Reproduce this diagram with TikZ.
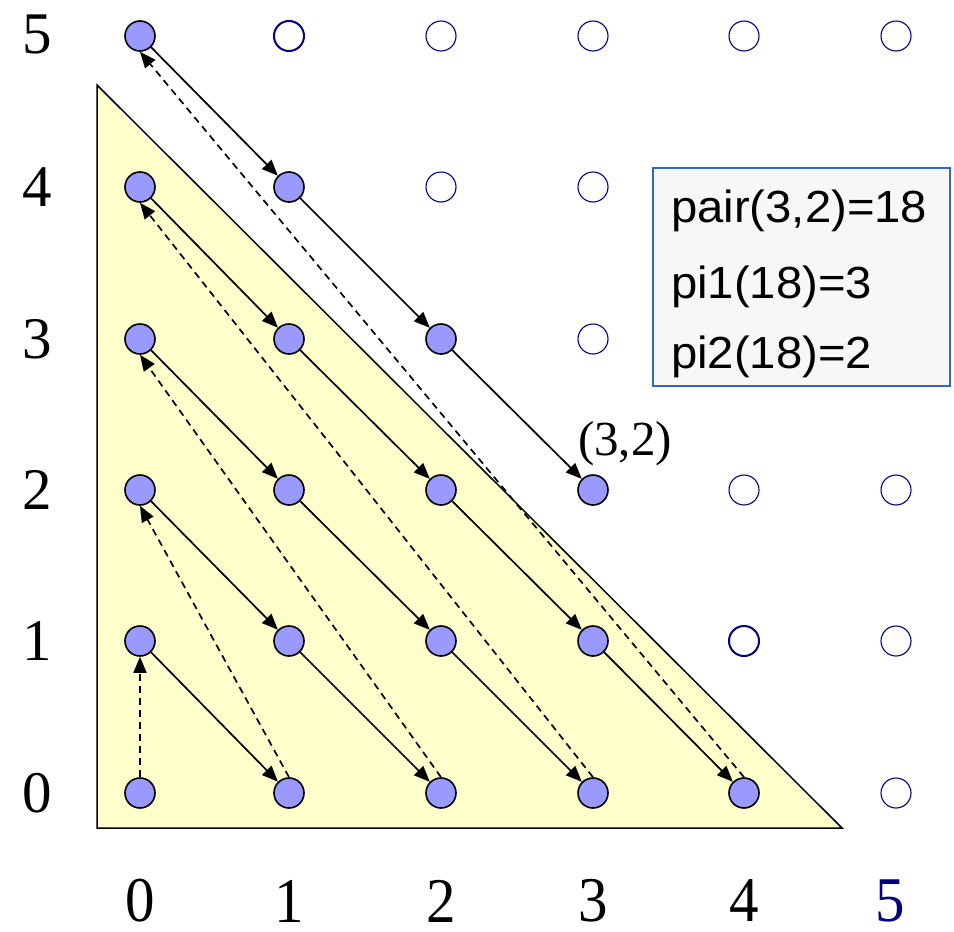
\documentclass[tikz,border=0pt]{standalone}
\usepackage{fontspec}
\setmainfont{Liberation Serif}
\newfontfamily\boxfont{Liberation Sans}
\usetikzlibrary{arrows.meta}
\definecolor{trifill}{HTML}{FFFFCC}
\definecolor{nodefill}{HTML}{9999FF}
\definecolor{navyc}{HTML}{000080}
\definecolor{boxfill}{HTML}{F7F7F7}
\definecolor{boxline}{HTML}{3366CC}
\tikzset{
  fnode/.style={circle, draw=black, fill=nodefill, line width=1.6pt, minimum size=30pt, inner sep=0pt},
  enode/.style={circle, draw=navyc, line width=1.1pt, minimum size=30pt, inner sep=0pt},
  enodethick/.style={enode, line width=2pt},
  solidarrow/.style={-{Triangle[length=16pt,width=13pt]}, line width=1.7pt, black},
  dasharrow/.style={-{Triangle[length=16pt,width=13pt]}, line width=1.7pt, black, dash pattern=on 7pt off 5pt},
  axislabel/.style={font=\fontsize{59}{60}\selectfont, inner sep=0pt},
  boxtext/.style={font=\boxfont\fontsize{45}{46}\selectfont, anchor=base west, inner sep=0pt}
}
\begin{document}
\begin{tikzpicture}[x=1pt,y=-1pt]
\useasboundingbox (0,0) rectangle (954,932);
\def\xs{{140,289,441,593,744,896}}
\def\ys{{793,641,490,339,187,36}}
% triangle
\draw[fill=trifill, line width=1.5pt, line join=miter] (97,85) -- (97,828) -- (842,828) -- cycle;
% filled nodes
\foreach \i/\j in {0/0,1/0,2/0,3/0,4/0,0/1,1/1,2/1,3/1,0/2,1/2,2/2,0/3,1/3,0/4,0/5,1/4,2/3,3/2} {
  \pgfmathsetmacro\px{\xs[\i]}
  \pgfmathsetmacro\py{\ys[\j]}
  \node[fnode] (n\i\j) at (\px,\py) {};
}
% empty nodes
\foreach \i/\j in {2/5,3/5,4/5,5/5,2/4,3/4,3/3,4/2,5/2,5/1,5/0} {
  \pgfmathsetmacro\px{\xs[\i]}
  \pgfmathsetmacro\py{\ys[\j]}
  \node[enode] (e\i\j) at (\px,\py) {};
}
\foreach \i/\j in {1/5,4/1} {
  \pgfmathsetmacro\px{\xs[\i]}
  \pgfmathsetmacro\py{\ys[\j]}
  \node[enodethick] (e\i\j) at (\px,\py) {};
}
% solid diagonal arrows
\draw[solidarrow] (n01) -- (n10);
\draw[solidarrow] (n02) -- (n11);
\draw[solidarrow] (n11) -- (n20);
\draw[solidarrow] (n03) -- (n12);
\draw[solidarrow] (n12) -- (n21);
\draw[solidarrow] (n21) -- (n30);
\draw[solidarrow] (n04) -- (n13);
\draw[solidarrow] (n13) -- (n22);
\draw[solidarrow] (n22) -- (n31);
\draw[solidarrow] (n31) -- (n40);
\draw[solidarrow] (n05) -- (n14);
\draw[solidarrow] (n14) -- (n23);
\draw[solidarrow] (n23) -- (n32);
% dashed return arrows
\draw[dasharrow] (n00.north) -- (n01.south);
\draw[dasharrow] (n10.north) -- (n02.south);
\draw[dasharrow] (n20.north) -- (n03.south);
\draw[dasharrow] (n30.north) -- (n04.south);
\draw[dasharrow] (n40.north) -- (n05.south);
% label (3,2)
\node[font=\fontsize{49}{50}\selectfont, inner sep=0pt] (lbl) at (625,444) {(3,2)};
% left axis labels
\node[axislabel] (ly0) at (37,793) {0};
\node[axislabel] (ly1) at (37,641) {1};
\node[axislabel] (ly2) at (37,490) {2};
\node[axislabel] (ly3) at (37,339) {3};
\node[axislabel] (ly4) at (37,187) {4};
\node[axislabel] (ly5) at (37,34) {5};
% bottom axis labels
\node[axislabel] (lx0) at (140,901) {\scalebox{1}[1.08]{0}};
\node[axislabel] (lx1) at (289,901) {\scalebox{1}[1.08]{1}};
\node[axislabel] (lx2) at (441,901) {\scalebox{1}[1.08]{2}};
\node[axislabel] (lx3) at (593,901) {\scalebox{1}[1.08]{3}};
\node[axislabel] (lx4) at (744,901) {\scalebox{1}[1.08]{4}};
\node[axislabel, text=navyc] (lx5) at (890,901) {\scalebox{1}[1.08]{5}};
% info box
\draw[fill=boxfill, draw=boxline, line width=1.2pt] (653,168) rectangle (950,386);
\node[boxtext] (t1) at (671,222) {\scalebox{1.05}[1]{pair(3,2)=18}};
\node[boxtext] (t2) at (671,298) {\scalebox{1.05}[1]{pi1(18)=3}};
\node[boxtext] (t3) at (671,368) {\scalebox{1.05}[1]{pi2(18)=2}};
\end{tikzpicture}
\end{document}
